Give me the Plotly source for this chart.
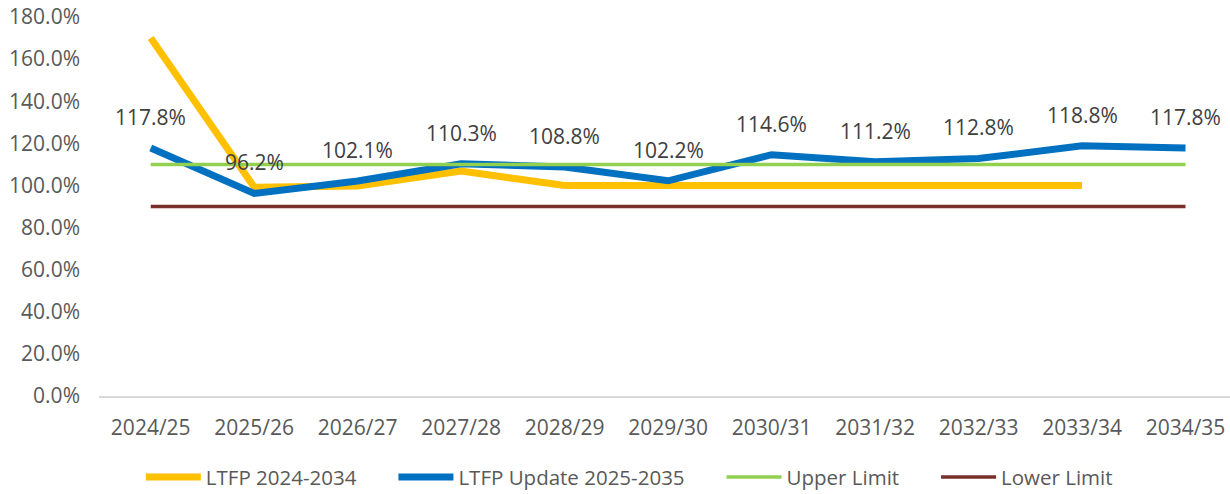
import plotly.graph_objects as go

categories = ["2024/25", "2025/26", "2026/27", "2027/28", "2028/29", "2029/30",
              "2030/31", "2031/32", "2032/33", "2033/34", "2034/35"]
ltfp_2024 = [170.0, 99.2, 99.7, 106.8, 100.0, 100.0, 100.0, 100.0, 100.0, 100.0, None]
ltfp_update = [117.8, 96.2, 102.1, 110.3, 108.8, 102.2, 114.6, 111.2, 112.8, 118.8, 117.8]
upper_limit = [110.0] * 11
lower_limit = [90.0] * 11
y_ticks = [0, 20, 40, 60, 80, 100, 120, 140, 160, 180]

FONT = "Open Sans"
PAD = "\u00a0" * 6

fig = go.Figure()
fig.add_trace(go.Scatter(x=categories, y=ltfp_2024, mode="lines", name="LTFP 2024-2034" + PAD,
                         line=dict(color="#FFC000", width=7), connectgaps=False))
fig.add_trace(go.Scatter(x=categories, y=ltfp_update, mode="lines", name="LTFP Update 2025-2035" + PAD,
                         line=dict(color="#0070C0", width=7)))
fig.add_trace(go.Scatter(x=categories, y=upper_limit, mode="lines", name="Upper Limit" + PAD,
                         line=dict(color="#92D050", width=3.5)))
fig.add_trace(go.Scatter(x=categories, y=lower_limit, mode="lines", name="Lower Limit",
                         line=dict(color="#78302B", width=3.5)))

for c, v in zip(categories, ltfp_update):
    fig.add_annotation(x=c, y=v, text=f"{v:.1f}%", showarrow=False, yshift=31,
                       yanchor="middle", font=dict(family=FONT, size=21, color="#404040"))

fig.update_layout(
    width=1230, height=494,
    margin=dict(l=99, r=0, t=17, b=98, autoexpand=False),
    paper_bgcolor="white", plot_bgcolor="white",
    showlegend=True,
    hovermode=False,
    legend=dict(orientation="h", x=0.037, xanchor="left", y=-0.214, yanchor="middle",
                font=dict(family=FONT, size=20.5, color="#595959"),
                itemwidth=55, tracegroupgap=0),
    xaxis=dict(type="category", range=[-0.5, 10.43], showgrid=False, zeroline=False,
               showline=True, linecolor="#D9D9D9", linewidth=1.5, ticks="",
               tickfont=dict(family=FONT, size=21, color="#595959"),
               ticklabelstandoff=12, automargin=False),
    yaxis=dict(range=[0, 180], tickvals=y_ticks,
               ticktext=[f"{t:.1f}%" for t in y_ticks],
               showgrid=False, zeroline=False, showline=False, ticks="",
               tickfont=dict(family=FONT, size=21, color="#595959"),
               ticklabelstandoff=18, automargin=False),
)

fig.write_html("out.html",
               config={"displayModeBar": False},
               post_script="document.body.style.margin='0';document.body.style.padding='0';"
                           "document.body.style.overflow='hidden';")
